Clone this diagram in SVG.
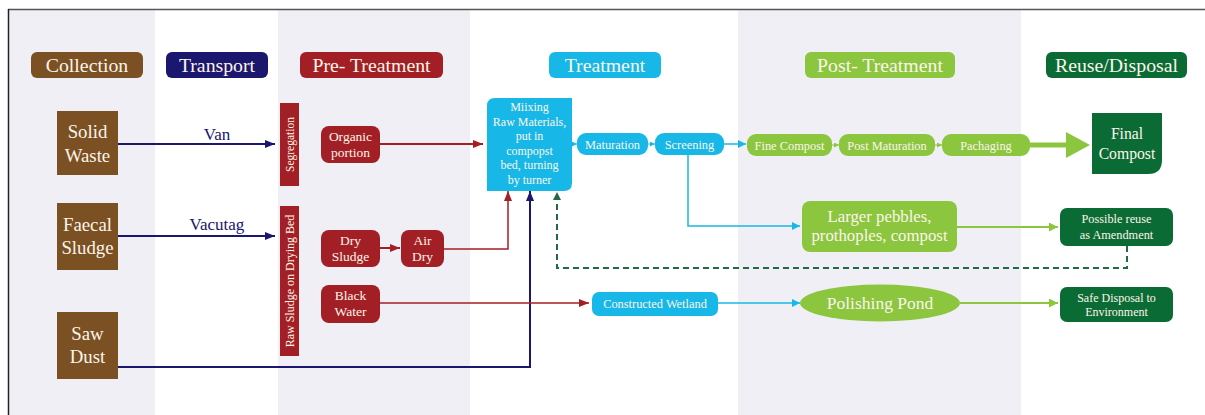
<svg xmlns="http://www.w3.org/2000/svg" width="1205" height="415" viewBox="0 0 1205 415">
<style>
text{font-family:"Liberation Serif","Times New Roman",serif;fill:#fbf5ea;text-anchor:middle}
.hd{font-size:19.8px}
.col{font-size:18.8px}
.sm{font-size:13.5px}
.mx{font-size:12px}
.xs{font-size:12.4px}
.lbl{fill:#1b166e;font-size:17px}
.bg{fill:#f0eff6}
.brown{fill:#7b5023}
.navy{fill:#1b166e}
.red{fill:#a21f25}
.cyan{fill:#17b8e8}
.green{fill:#8cc63f}
.dkg{fill:#0b6b35}
.cn line,.cn polyline{fill:none}
</style>
<defs>
<marker id="aN" markerWidth="10" markerHeight="8" refX="10" refY="4" orient="auto" markerUnits="userSpaceOnUse"><path d="M0,0 L10,4 L0,8 Z" fill="#1b166e"/></marker>
<marker id="aR" markerWidth="10" markerHeight="8" refX="10" refY="4" orient="auto" markerUnits="userSpaceOnUse"><path d="M0,0 L10,4 L0,8 Z" fill="#a21f25"/></marker>
<marker id="aC" markerWidth="8" markerHeight="8" refX="8" refY="4" orient="auto" markerUnits="userSpaceOnUse"><path d="M0,0 L8,4 L0,8 Z" fill="#17b8e8"/></marker>
<marker id="aCs" markerWidth="5" markerHeight="5" refX="5" refY="2.5" orient="auto" markerUnits="userSpaceOnUse"><path d="M0,0 L5,2.5 L0,5 Z" fill="#17b8e8"/></marker>
<marker id="aG" markerWidth="9" markerHeight="9" refX="9" refY="4.5" orient="auto" markerUnits="userSpaceOnUse"><path d="M0,0 L9,4.5 L0,9 Z" fill="#8cc63f"/></marker>
<marker id="aGs" markerWidth="5" markerHeight="5" refX="5" refY="2.5" orient="auto" markerUnits="userSpaceOnUse"><path d="M0,0 L5,2.5 L0,5 Z" fill="#8cc63f"/></marker>
<marker id="aD" markerWidth="9" markerHeight="8" refX="8" refY="4" orient="auto" markerUnits="userSpaceOnUse"><path d="M0,0 L8,4 L0,8 Z" fill="#1f6b45"/></marker>
</defs>
<rect width="1205" height="415" fill="#ffffff"/>
<g id="columns">
<rect class="bg" x="9" y="10" width="146" height="405"/>
<rect class="bg" x="278" y="10" width="192" height="405"/>
<rect class="bg" x="738" y="10" width="283" height="405"/>
<line x1="8" y1="9.5" x2="1205" y2="9.5" stroke="#555" stroke-width="1.5"/>
<line x1="8.5" y1="9" x2="8.5" y2="415" stroke="#222" stroke-width="1.5"/>
</g>
<g id="headers">
<g id="h-collection"><rect class="brown" x="31" y="52" width="112" height="26" rx="6"/><text class="hd" x="87" y="71.5">Collection</text></g>
<g id="h-transport"><rect class="navy" x="166" y="52" width="102" height="26" rx="6"/><text class="hd" x="217" y="71.5">Transport</text></g>
<g id="h-pre"><rect class="red" x="300" y="52" width="143" height="26" rx="6"/><text class="hd" x="371.5" y="71.5">Pre- Treatment</text></g>
<g id="h-treat"><rect class="cyan" x="549" y="52" width="112" height="26" rx="6"/><text class="hd" x="605" y="71.5">Treatment</text></g>
<g id="h-post"><rect class="green" x="805" y="52" width="150" height="26" rx="6"/><text class="hd" x="880" y="71.5">Post- Treatment</text></g>
<g id="h-reuse"><rect class="dkg" x="1046" y="52" width="141" height="26" rx="6"/><text class="hd" x="1116.5" y="71.5">Reuse/Disposal</text></g>
</g>
<g id="connectors" class="cn">
<line x1="118" y1="144" x2="275" y2="144" stroke="#1b166e" stroke-width="2" marker-end="url(#aN)"/>
<line x1="118" y1="236" x2="275" y2="236" stroke="#1b166e" stroke-width="2" marker-end="url(#aN)"/>
<polyline points="118,367 530,367 530,191" stroke="#1b166e" stroke-width="2" marker-end="url(#aN)"/>
<line x1="380" y1="144" x2="483" y2="144" stroke="#a21f25" stroke-width="2" marker-end="url(#aR)"/>
<line x1="380" y1="248" x2="400" y2="248" stroke="#a21f25" stroke-width="2" marker-end="url(#aR)"/>
<polyline points="444,249 508,249 508,191" stroke="#a21f25" stroke-width="1.5" marker-end="url(#aR)"/>
<line x1="380" y1="303" x2="589" y2="303" stroke="#a21f25" stroke-width="1.5" marker-end="url(#aR)"/>
<polyline points="1127,246 1127,268 557,268 557,192" stroke="#1f6b45" stroke-width="2" stroke-dasharray="6,4" marker-end="url(#aD)"/>
<line x1="572" y1="144" x2="577" y2="144" stroke="#17b8e8" stroke-width="1" marker-end="url(#aCs)"/>
<line x1="648" y1="144" x2="655" y2="144" stroke="#17b8e8" stroke-width="1" marker-end="url(#aCs)"/>
<line x1="724" y1="144" x2="746" y2="144" stroke="#17b8e8" stroke-width="1.5" marker-end="url(#aC)"/>
<polyline points="688,155 688,226 800,226" stroke="#17b8e8" stroke-width="1.5" marker-end="url(#aC)"/>
<line x1="718" y1="303" x2="800" y2="303" stroke="#17b8e8" stroke-width="1.5" marker-end="url(#aC)"/>
<line x1="832" y1="145" x2="839" y2="145" stroke="#8cc63f" stroke-width="1" marker-end="url(#aGs)"/>
<line x1="935" y1="145" x2="942" y2="145" stroke="#8cc63f" stroke-width="1" marker-end="url(#aGs)"/>
<path d="M1030,142.5 L1066,142.5 L1066,132 L1090,145 L1066,158 L1066,147.5 L1030,147.5 Z" style="fill:#8cc63f;stroke:none"/>
<line x1="957" y1="227" x2="1058" y2="227" stroke="#8cc63f" stroke-width="2" marker-end="url(#aG)"/>
<line x1="960" y1="303" x2="1058" y2="303" stroke="#8cc63f" stroke-width="2" marker-end="url(#aG)"/>
</g>
<g id="n-solid"><rect class="brown" x="57" y="111" width="61" height="64"/><text class="col" x="87.5" y="138">Solid</text><text class="col" x="87.5" y="162">Waste</text></g>
<g id="n-faecal"><rect class="brown" x="57" y="203" width="61" height="67"/><text class="col" x="87.5" y="231">Faecal</text><text class="col" x="87.5" y="254">Sludge</text></g>
<g id="n-saw"><rect class="brown" x="57" y="312" width="61" height="67"/><text class="col" x="87.5" y="340">Saw</text><text class="col" x="87.5" y="363">Dust</text></g>
<g id="l-van"><text class="lbl" x="217" y="140">Van</text></g>
<g id="l-vacutag"><text class="lbl" x="217" y="230">Vacutag</text></g>
<g id="n-segregation"><rect class="red" x="280" y="103" width="19" height="83"/><text transform="translate(293.5,144.5) rotate(-90)" style="font-size:11.5px">Segregation</text></g>
<g id="n-rawsludge"><rect class="red" x="280" y="206" width="19" height="150"/><text transform="translate(293.5,281) rotate(-90)" style="font-size:12px">Raw Sludge on Drying Bed</text></g>
<g id="n-organic"><rect class="red" x="321" y="126" width="59" height="37" rx="8"/><text class="sm" x="350.5" y="140.5">Organic</text><text class="sm" x="350.5" y="156.5">portion</text></g>
<g id="n-drysludge"><rect class="red" x="321" y="230" width="59" height="37" rx="8"/><text class="sm" x="350.5" y="245">Dry</text><text class="sm" x="350.5" y="260.5">Sludge</text></g>
<g id="n-airdry"><rect class="red" x="401" y="230" width="43" height="37" rx="8"/><text class="sm" x="422.5" y="245">Air</text><text class="sm" x="422.5" y="260.5">Dry</text></g>
<g id="n-blackwater"><rect class="red" x="321" y="285" width="59" height="38" rx="8"/><text class="sm" x="350.5" y="300">Black</text><text class="sm" x="350.5" y="316">Water</text></g>
<g id="n-mixing"><path class="cyan" d="M495,98 H572 V183 Q572,191 564,191 H487 V106 Q487,98 495,98 Z"/><text class="mx" x="529.5" y="111">Miixing</text><text class="mx" x="529.5" y="126">Raw Materials,</text><text class="mx" x="529.5" y="140">put in</text><text class="mx" x="529.5" y="155">compopst</text><text class="mx" x="529.5" y="169">bed, turning</text><text class="mx" x="529.5" y="184">by turner</text></g>
<g id="n-maturation"><rect class="cyan" x="577" y="133" width="71" height="22" rx="9"/><text class="xs" x="612.5" y="148.5">Maturation</text></g>
<g id="n-screening"><rect class="cyan" x="655" y="133" width="69" height="22" rx="9"/><text class="xs" x="689.5" y="148.5">Screening</text></g>
<g id="n-wetland"><rect class="cyan" x="592" y="292" width="126" height="24" rx="7"/><text class="xs" x="655" y="308">Constructed Wetland</text></g>
<g id="n-finecompost"><rect class="green" x="747" y="134" width="85" height="22" rx="9"/><text class="xs" x="789.5" y="149.5">Fine Compost</text></g>
<g id="n-postmat"><rect class="green" x="839" y="134" width="96" height="22" rx="9"/><text class="xs" x="887" y="149.5">Post Maturation</text></g>
<g id="n-pachaging"><rect class="green" x="942" y="134" width="88" height="22" rx="9"/><text class="xs" x="986" y="149.5">Pachaging</text></g>
<g id="n-pebbles"><rect class="green" x="802" y="201" width="155" height="51" rx="8"/><text x="879.5" y="221.5" style="font-size:16.8px">Larger pebbles,</text><text x="879.5" y="241" style="font-size:16.8px">prothoples, compost</text></g>
<g id="n-pond"><ellipse class="green" cx="880" cy="303" rx="80" ry="18.5"/><text x="880" y="309" style="font-size:17.5px">Polishing Pond</text></g>
<g id="n-final"><path class="dkg" d="M1092,113 H1162 V160 Q1162,174 1148,174 H1092 Z"/><text x="1127" y="139" style="font-size:15.7px">Final</text><text x="1127" y="159" style="font-size:15.7px">Compost</text></g>
<g id="n-reuse"><rect class="dkg" x="1060" y="208" width="113" height="38" rx="7"/><text x="1116.5" y="223" style="font-size:12.3px">Possible reuse</text><text x="1116.5" y="239" style="font-size:12.3px">as Amendment</text></g>
<g id="n-safe"><rect class="dkg" x="1060" y="287" width="113" height="35" rx="7"/><text x="1116.5" y="302" style="font-size:12px">Safe Disposal to</text><text x="1116.5" y="316" style="font-size:12px">Environment</text></g>
</svg>
